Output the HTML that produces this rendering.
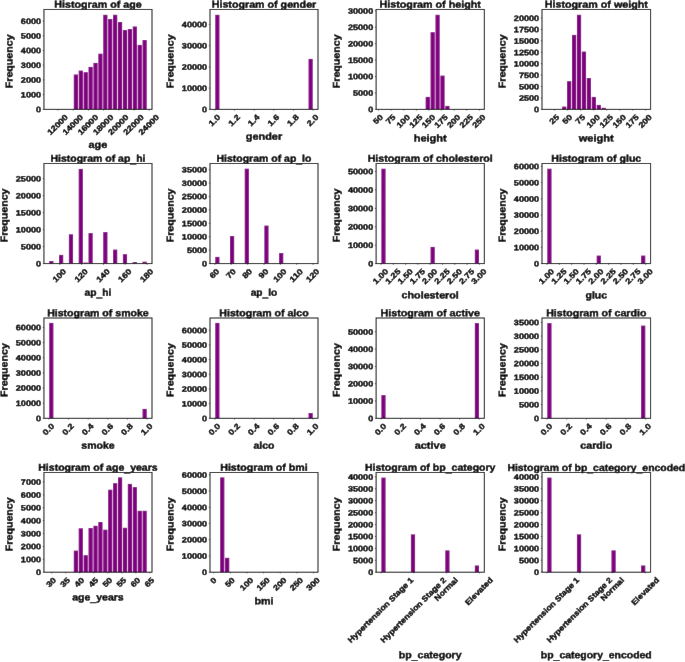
<!DOCTYPE html>
<html><head><meta charset="utf-8"><style>
html,body{margin:0;padding:0;background:#fff;}
svg{display:block;}
.w{will-change:transform;}
.u{stroke-width:0.55px;}
text{font-family:"Liberation Sans",sans-serif;font-weight:bold;text-rendering:geometricPrecision;fill:#000;stroke:#000;stroke-width:0.4px;}
</style></head><body>
<div class="w"><svg width="685" height="662" viewBox="0 0 685 662">
<defs><filter id="bl" x="0" y="0" width="685" height="662" filterUnits="userSpaceOnUse"><feConvolveMatrix order="3" kernelMatrix="0.0016 0.0371 0.0016 0.0371 0.8450 0.0371 0.0016 0.0371 0.0016" divisor="1" edgeMode="duplicate" preserveAlpha="true"/></filter></defs>
<g filter="url(#bl)">
<rect width="685" height="662" fill="#fff"/>
<rect x="73.79" y="74.50" width="4.17" height="34.85" fill="#800080"/>
<rect x="78.70" y="70.60" width="4.17" height="38.75" fill="#800080"/>
<rect x="83.61" y="72.20" width="4.17" height="37.15" fill="#800080"/>
<rect x="88.52" y="66.90" width="4.17" height="42.45" fill="#800080"/>
<rect x="93.43" y="62.90" width="4.17" height="46.45" fill="#800080"/>
<rect x="98.34" y="53.70" width="4.17" height="55.65" fill="#800080"/>
<rect x="103.25" y="14.80" width="4.17" height="94.55" fill="#800080"/>
<rect x="108.17" y="19.00" width="4.17" height="90.35" fill="#800080"/>
<rect x="113.08" y="14.80" width="4.17" height="94.55" fill="#800080"/>
<rect x="117.99" y="22.00" width="4.17" height="87.35" fill="#800080"/>
<rect x="122.90" y="30.00" width="4.17" height="79.35" fill="#800080"/>
<rect x="127.81" y="29.00" width="4.17" height="80.35" fill="#800080"/>
<rect x="132.72" y="26.50" width="4.17" height="82.85" fill="#800080"/>
<rect x="137.63" y="44.90" width="4.17" height="64.45" fill="#800080"/>
<rect x="142.55" y="40.00" width="4.17" height="69.35" fill="#800080"/>
<rect x="43.95" y="9.45" width="108.05" height="99.90" fill="none" stroke="#000" stroke-width="0.95"/>
<line x1="42.75" y1="109.35" x2="43.95" y2="109.35" stroke="#000" stroke-width="0.6"/>
<text x="41.05" y="112.24" font-size="7.90" text-anchor="end" textLength="5.04" lengthAdjust="spacingAndGlyphs" transform="rotate(0.05 41.05 112.24)">0</text>
<line x1="42.75" y1="94.63" x2="43.95" y2="94.63" stroke="#000" stroke-width="0.6"/>
<text x="41.05" y="97.52" font-size="7.90" text-anchor="end" textLength="20.18" lengthAdjust="spacingAndGlyphs" transform="rotate(0.05 41.05 97.52)">1000</text>
<line x1="42.75" y1="79.92" x2="43.95" y2="79.92" stroke="#000" stroke-width="0.6"/>
<text x="41.05" y="82.81" font-size="7.90" text-anchor="end" textLength="20.18" lengthAdjust="spacingAndGlyphs" transform="rotate(0.05 41.05 82.81)">2000</text>
<line x1="42.75" y1="65.20" x2="43.95" y2="65.20" stroke="#000" stroke-width="0.6"/>
<text x="41.05" y="68.09" font-size="7.90" text-anchor="end" textLength="20.18" lengthAdjust="spacingAndGlyphs" transform="rotate(0.05 41.05 68.09)">3000</text>
<line x1="42.75" y1="50.48" x2="43.95" y2="50.48" stroke="#000" stroke-width="0.6"/>
<text x="41.05" y="53.37" font-size="7.90" text-anchor="end" textLength="20.18" lengthAdjust="spacingAndGlyphs" transform="rotate(0.05 41.05 53.37)">4000</text>
<line x1="42.75" y1="35.76" x2="43.95" y2="35.76" stroke="#000" stroke-width="0.6"/>
<text x="41.05" y="38.65" font-size="7.90" text-anchor="end" textLength="20.18" lengthAdjust="spacingAndGlyphs" transform="rotate(0.05 41.05 38.65)">5000</text>
<line x1="42.75" y1="21.05" x2="43.95" y2="21.05" stroke="#000" stroke-width="0.6"/>
<text x="41.05" y="23.94" font-size="7.90" text-anchor="end" textLength="20.18" lengthAdjust="spacingAndGlyphs" transform="rotate(0.05 41.05 23.94)">6000</text>
<line x1="58.00" y1="109.35" x2="58.00" y2="110.55" stroke="#000" stroke-width="0.6"/>
<text x="0.00" y="2.00" font-size="7.90" text-anchor="middle" textLength="25.22" lengthAdjust="spacingAndGlyphs" transform="translate(58.00,125.25) rotate(-45)">12000</text>
<line x1="73.21" y1="109.35" x2="73.21" y2="110.55" stroke="#000" stroke-width="0.6"/>
<text x="0.00" y="2.00" font-size="7.90" text-anchor="middle" textLength="25.22" lengthAdjust="spacingAndGlyphs" transform="translate(73.21,125.25) rotate(-45)">14000</text>
<line x1="88.43" y1="109.35" x2="88.43" y2="110.55" stroke="#000" stroke-width="0.6"/>
<text x="0.00" y="2.00" font-size="7.90" text-anchor="middle" textLength="25.22" lengthAdjust="spacingAndGlyphs" transform="translate(88.43,125.25) rotate(-45)">16000</text>
<line x1="103.64" y1="109.35" x2="103.64" y2="110.55" stroke="#000" stroke-width="0.6"/>
<text x="0.00" y="2.00" font-size="7.90" text-anchor="middle" textLength="25.22" lengthAdjust="spacingAndGlyphs" transform="translate(103.64,125.25) rotate(-45)">18000</text>
<line x1="118.85" y1="109.35" x2="118.85" y2="110.55" stroke="#000" stroke-width="0.6"/>
<text x="0.00" y="2.00" font-size="7.90" text-anchor="middle" textLength="25.22" lengthAdjust="spacingAndGlyphs" transform="translate(118.85,125.25) rotate(-45)">20000</text>
<line x1="134.06" y1="109.35" x2="134.06" y2="110.55" stroke="#000" stroke-width="0.6"/>
<text x="0.00" y="2.00" font-size="7.90" text-anchor="middle" textLength="25.22" lengthAdjust="spacingAndGlyphs" transform="translate(134.06,125.25) rotate(-45)">22000</text>
<line x1="149.27" y1="109.35" x2="149.27" y2="110.55" stroke="#000" stroke-width="0.6"/>
<text x="0.00" y="2.00" font-size="7.90" text-anchor="middle" textLength="25.22" lengthAdjust="spacingAndGlyphs" transform="translate(149.27,125.25) rotate(-45)">24000</text>
<text x="97.97" y="7.65" font-size="9.76" text-anchor="middle" textLength="87.29" lengthAdjust="spacingAndGlyphs" transform="rotate(0.05 97.97 7.65)">Histogram of age</text>
<text x="97.97" y="147.95" font-size="9.92" text-anchor="middle" textLength="18.83" lengthAdjust="spacingAndGlyphs" transform="rotate(0.05 97.97 147.95)">age</text>
<text x="0.00" y="0.00" font-size="9.92" text-anchor="middle" textLength="53.84" lengthAdjust="spacingAndGlyphs" transform="translate(12.55,61.30) rotate(-89.95)">Frequency</text>
<rect x="215.28" y="14.80" width="4.17" height="94.55" fill="#800080"/>
<rect x="308.55" y="58.90" width="4.17" height="50.45" fill="#800080"/>
<rect x="210.00" y="9.45" width="108.00" height="99.90" fill="none" stroke="#000" stroke-width="0.95"/>
<line x1="208.80" y1="109.35" x2="210.00" y2="109.35" stroke="#000" stroke-width="0.6"/>
<text x="207.10" y="112.24" font-size="7.90" text-anchor="end" textLength="5.04" lengthAdjust="spacingAndGlyphs" transform="rotate(0.05 207.10 112.24)">0</text>
<line x1="208.80" y1="88.10" x2="210.00" y2="88.10" stroke="#000" stroke-width="0.6"/>
<text x="207.10" y="90.99" font-size="7.90" text-anchor="end" textLength="25.22" lengthAdjust="spacingAndGlyphs" transform="rotate(0.05 207.10 90.99)">10000</text>
<line x1="208.80" y1="66.85" x2="210.00" y2="66.85" stroke="#000" stroke-width="0.6"/>
<text x="207.10" y="69.74" font-size="7.90" text-anchor="end" textLength="25.22" lengthAdjust="spacingAndGlyphs" transform="rotate(0.05 207.10 69.74)">20000</text>
<line x1="208.80" y1="45.60" x2="210.00" y2="45.60" stroke="#000" stroke-width="0.6"/>
<text x="207.10" y="48.49" font-size="7.90" text-anchor="end" textLength="25.22" lengthAdjust="spacingAndGlyphs" transform="rotate(0.05 207.10 48.49)">30000</text>
<line x1="208.80" y1="24.35" x2="210.00" y2="24.35" stroke="#000" stroke-width="0.6"/>
<text x="207.10" y="27.24" font-size="7.90" text-anchor="end" textLength="25.22" lengthAdjust="spacingAndGlyphs" transform="rotate(0.05 207.10 27.24)">40000</text>
<line x1="214.91" y1="109.35" x2="214.91" y2="110.55" stroke="#000" stroke-width="0.6"/>
<text x="0.00" y="2.00" font-size="7.90" text-anchor="middle" textLength="12.84" lengthAdjust="spacingAndGlyphs" transform="translate(214.91,120.87) rotate(-45)">1.0</text>
<line x1="234.55" y1="109.35" x2="234.55" y2="110.55" stroke="#000" stroke-width="0.6"/>
<text x="0.00" y="2.00" font-size="7.90" text-anchor="middle" textLength="12.84" lengthAdjust="spacingAndGlyphs" transform="translate(234.55,120.87) rotate(-45)">1.2</text>
<line x1="254.18" y1="109.35" x2="254.18" y2="110.55" stroke="#000" stroke-width="0.6"/>
<text x="0.00" y="2.00" font-size="7.90" text-anchor="middle" textLength="12.84" lengthAdjust="spacingAndGlyphs" transform="translate(254.18,120.87) rotate(-45)">1.4</text>
<line x1="273.82" y1="109.35" x2="273.82" y2="110.55" stroke="#000" stroke-width="0.6"/>
<text x="0.00" y="2.00" font-size="7.90" text-anchor="middle" textLength="12.84" lengthAdjust="spacingAndGlyphs" transform="translate(273.82,120.87) rotate(-45)">1.6</text>
<line x1="293.45" y1="109.35" x2="293.45" y2="110.55" stroke="#000" stroke-width="0.6"/>
<text x="0.00" y="2.00" font-size="7.90" text-anchor="middle" textLength="12.84" lengthAdjust="spacingAndGlyphs" transform="translate(293.45,120.87) rotate(-45)">1.8</text>
<line x1="313.09" y1="109.35" x2="313.09" y2="110.55" stroke="#000" stroke-width="0.6"/>
<text x="0.00" y="2.00" font-size="7.90" text-anchor="middle" textLength="12.84" lengthAdjust="spacingAndGlyphs" transform="translate(313.09,120.87) rotate(-45)">2.0</text>
<text x="264.00" y="7.65" font-size="9.76" text-anchor="middle" textLength="104.51" lengthAdjust="spacingAndGlyphs" transform="rotate(0.05 264.00 7.65)">Histogram of gender</text>
<text x="264.00" y="139.75" font-size="9.92" text-anchor="middle" textLength="36.34" lengthAdjust="spacingAndGlyphs" transform="rotate(0.05 264.00 139.75)">gender</text>
<text x="0.00" y="0.00" font-size="9.92" text-anchor="middle" textLength="53.84" lengthAdjust="spacingAndGlyphs" transform="translate(173.60,61.30) rotate(-89.95)">Frequency</text>
<rect x="425.65" y="96.90" width="4.18" height="12.45" fill="#800080"/>
<rect x="430.57" y="32.20" width="4.18" height="77.15" fill="#800080"/>
<rect x="435.49" y="14.80" width="4.18" height="94.55" fill="#800080"/>
<rect x="440.41" y="75.60" width="4.18" height="33.75" fill="#800080"/>
<rect x="445.32" y="105.90" width="4.18" height="3.45" fill="#800080"/>
<rect x="376.10" y="9.45" width="108.20" height="99.90" fill="none" stroke="#000" stroke-width="0.95"/>
<line x1="374.90" y1="109.35" x2="376.10" y2="109.35" stroke="#000" stroke-width="0.6"/>
<text x="373.20" y="112.24" font-size="7.90" text-anchor="end" textLength="5.04" lengthAdjust="spacingAndGlyphs" transform="rotate(0.05 373.20 112.24)">0</text>
<line x1="374.90" y1="92.92" x2="376.10" y2="92.92" stroke="#000" stroke-width="0.6"/>
<text x="373.20" y="95.81" font-size="7.90" text-anchor="end" textLength="20.18" lengthAdjust="spacingAndGlyphs" transform="rotate(0.05 373.20 95.81)">5000</text>
<line x1="374.90" y1="76.49" x2="376.10" y2="76.49" stroke="#000" stroke-width="0.6"/>
<text x="373.20" y="79.38" font-size="7.90" text-anchor="end" textLength="25.22" lengthAdjust="spacingAndGlyphs" transform="rotate(0.05 373.20 79.38)">10000</text>
<line x1="374.90" y1="60.06" x2="376.10" y2="60.06" stroke="#000" stroke-width="0.6"/>
<text x="373.20" y="62.95" font-size="7.90" text-anchor="end" textLength="25.22" lengthAdjust="spacingAndGlyphs" transform="rotate(0.05 373.20 62.95)">15000</text>
<line x1="374.90" y1="43.63" x2="376.10" y2="43.63" stroke="#000" stroke-width="0.6"/>
<text x="373.20" y="46.52" font-size="7.90" text-anchor="end" textLength="25.22" lengthAdjust="spacingAndGlyphs" transform="rotate(0.05 373.20 46.52)">20000</text>
<line x1="374.90" y1="27.20" x2="376.10" y2="27.20" stroke="#000" stroke-width="0.6"/>
<text x="373.20" y="30.09" font-size="7.90" text-anchor="end" textLength="25.22" lengthAdjust="spacingAndGlyphs" transform="rotate(0.05 373.20 30.09)">25000</text>
<line x1="374.90" y1="10.77" x2="376.10" y2="10.77" stroke="#000" stroke-width="0.6"/>
<text x="373.20" y="13.66" font-size="7.90" text-anchor="end" textLength="25.22" lengthAdjust="spacingAndGlyphs" transform="rotate(0.05 373.20 13.66)">30000</text>
<line x1="378.50" y1="109.35" x2="378.50" y2="110.55" stroke="#000" stroke-width="0.6"/>
<text x="0.00" y="2.00" font-size="7.90" text-anchor="middle" textLength="10.09" lengthAdjust="spacingAndGlyphs" transform="translate(378.50,119.90) rotate(-45)">50</text>
<line x1="391.11" y1="109.35" x2="391.11" y2="110.55" stroke="#000" stroke-width="0.6"/>
<text x="0.00" y="2.00" font-size="7.90" text-anchor="middle" textLength="10.09" lengthAdjust="spacingAndGlyphs" transform="translate(391.11,119.90) rotate(-45)">75</text>
<line x1="403.72" y1="109.35" x2="403.72" y2="110.55" stroke="#000" stroke-width="0.6"/>
<text x="0.00" y="2.00" font-size="7.90" text-anchor="middle" textLength="15.13" lengthAdjust="spacingAndGlyphs" transform="translate(403.72,121.68) rotate(-45)">100</text>
<line x1="416.33" y1="109.35" x2="416.33" y2="110.55" stroke="#000" stroke-width="0.6"/>
<text x="0.00" y="2.00" font-size="7.90" text-anchor="middle" textLength="15.13" lengthAdjust="spacingAndGlyphs" transform="translate(416.33,121.68) rotate(-45)">125</text>
<line x1="428.94" y1="109.35" x2="428.94" y2="110.55" stroke="#000" stroke-width="0.6"/>
<text x="0.00" y="2.00" font-size="7.90" text-anchor="middle" textLength="15.13" lengthAdjust="spacingAndGlyphs" transform="translate(428.94,121.68) rotate(-45)">150</text>
<line x1="441.55" y1="109.35" x2="441.55" y2="110.55" stroke="#000" stroke-width="0.6"/>
<text x="0.00" y="2.00" font-size="7.90" text-anchor="middle" textLength="15.13" lengthAdjust="spacingAndGlyphs" transform="translate(441.55,121.68) rotate(-45)">175</text>
<line x1="454.16" y1="109.35" x2="454.16" y2="110.55" stroke="#000" stroke-width="0.6"/>
<text x="0.00" y="2.00" font-size="7.90" text-anchor="middle" textLength="15.13" lengthAdjust="spacingAndGlyphs" transform="translate(454.16,121.68) rotate(-45)">200</text>
<line x1="466.77" y1="109.35" x2="466.77" y2="110.55" stroke="#000" stroke-width="0.6"/>
<text x="0.00" y="2.00" font-size="7.90" text-anchor="middle" textLength="15.13" lengthAdjust="spacingAndGlyphs" transform="translate(466.77,121.68) rotate(-45)">225</text>
<line x1="479.38" y1="109.35" x2="479.38" y2="110.55" stroke="#000" stroke-width="0.6"/>
<text x="0.00" y="2.00" font-size="7.90" text-anchor="middle" textLength="15.13" lengthAdjust="spacingAndGlyphs" transform="translate(479.38,121.68) rotate(-45)">250</text>
<text x="430.20" y="7.65" font-size="9.76" text-anchor="middle" textLength="101.34" lengthAdjust="spacingAndGlyphs" transform="rotate(0.05 430.20 7.65)">Histogram of height</text>
<text x="430.20" y="141.45" font-size="9.92" text-anchor="middle" textLength="33.11" lengthAdjust="spacingAndGlyphs" transform="rotate(0.05 430.20 141.45)">height</text>
<text x="0.00" y="0.00" font-size="9.92" text-anchor="middle" textLength="53.84" lengthAdjust="spacingAndGlyphs" transform="translate(339.70,61.30) rotate(-89.95)">Frequency</text>
<rect x="562.12" y="106.60" width="4.20" height="2.75" fill="#800080"/>
<rect x="567.05" y="81.20" width="4.20" height="28.15" fill="#800080"/>
<rect x="571.99" y="34.90" width="4.20" height="74.45" fill="#800080"/>
<rect x="576.92" y="14.80" width="4.20" height="94.55" fill="#800080"/>
<rect x="581.86" y="51.60" width="4.20" height="57.75" fill="#800080"/>
<rect x="586.80" y="78.00" width="4.20" height="31.35" fill="#800080"/>
<rect x="591.73" y="96.90" width="4.20" height="12.45" fill="#800080"/>
<rect x="596.67" y="104.90" width="4.20" height="4.45" fill="#800080"/>
<rect x="601.61" y="107.80" width="4.20" height="1.55" fill="#800080"/>
<rect x="542.00" y="9.45" width="108.60" height="99.90" fill="none" stroke="#000" stroke-width="0.95"/>
<line x1="540.80" y1="109.35" x2="542.00" y2="109.35" stroke="#000" stroke-width="0.6"/>
<text x="539.10" y="112.24" font-size="7.90" text-anchor="end" textLength="5.04" lengthAdjust="spacingAndGlyphs" transform="rotate(0.05 539.10 112.24)">0</text>
<line x1="540.80" y1="97.94" x2="542.00" y2="97.94" stroke="#000" stroke-width="0.6"/>
<text x="539.10" y="100.83" font-size="7.90" text-anchor="end" textLength="20.18" lengthAdjust="spacingAndGlyphs" transform="rotate(0.05 539.10 100.83)">2500</text>
<line x1="540.80" y1="86.53" x2="542.00" y2="86.53" stroke="#000" stroke-width="0.6"/>
<text x="539.10" y="89.42" font-size="7.90" text-anchor="end" textLength="20.18" lengthAdjust="spacingAndGlyphs" transform="rotate(0.05 539.10 89.42)">5000</text>
<line x1="540.80" y1="75.12" x2="542.00" y2="75.12" stroke="#000" stroke-width="0.6"/>
<text x="539.10" y="78.01" font-size="7.90" text-anchor="end" textLength="20.18" lengthAdjust="spacingAndGlyphs" transform="rotate(0.05 539.10 78.01)">7500</text>
<line x1="540.80" y1="63.71" x2="542.00" y2="63.71" stroke="#000" stroke-width="0.6"/>
<text x="539.10" y="66.60" font-size="7.90" text-anchor="end" textLength="25.22" lengthAdjust="spacingAndGlyphs" transform="rotate(0.05 539.10 66.60)">10000</text>
<line x1="540.80" y1="52.30" x2="542.00" y2="52.30" stroke="#000" stroke-width="0.6"/>
<text x="539.10" y="55.19" font-size="7.90" text-anchor="end" textLength="25.22" lengthAdjust="spacingAndGlyphs" transform="rotate(0.05 539.10 55.19)">12500</text>
<line x1="540.80" y1="40.89" x2="542.00" y2="40.89" stroke="#000" stroke-width="0.6"/>
<text x="539.10" y="43.78" font-size="7.90" text-anchor="end" textLength="25.22" lengthAdjust="spacingAndGlyphs" transform="rotate(0.05 539.10 43.78)">15000</text>
<line x1="540.80" y1="29.48" x2="542.00" y2="29.48" stroke="#000" stroke-width="0.6"/>
<text x="539.10" y="32.37" font-size="7.90" text-anchor="end" textLength="25.22" lengthAdjust="spacingAndGlyphs" transform="rotate(0.05 539.10 32.37)">17500</text>
<line x1="540.80" y1="18.07" x2="542.00" y2="18.07" stroke="#000" stroke-width="0.6"/>
<text x="539.10" y="20.96" font-size="7.90" text-anchor="end" textLength="25.22" lengthAdjust="spacingAndGlyphs" transform="rotate(0.05 539.10 20.96)">20000</text>
<line x1="554.73" y1="109.35" x2="554.73" y2="110.55" stroke="#000" stroke-width="0.6"/>
<text x="0.00" y="2.00" font-size="7.90" text-anchor="middle" textLength="10.09" lengthAdjust="spacingAndGlyphs" transform="translate(554.73,119.90) rotate(-45)">25</text>
<line x1="567.72" y1="109.35" x2="567.72" y2="110.55" stroke="#000" stroke-width="0.6"/>
<text x="0.00" y="2.00" font-size="7.90" text-anchor="middle" textLength="10.09" lengthAdjust="spacingAndGlyphs" transform="translate(567.72,119.90) rotate(-45)">50</text>
<line x1="580.71" y1="109.35" x2="580.71" y2="110.55" stroke="#000" stroke-width="0.6"/>
<text x="0.00" y="2.00" font-size="7.90" text-anchor="middle" textLength="10.09" lengthAdjust="spacingAndGlyphs" transform="translate(580.71,119.90) rotate(-45)">75</text>
<line x1="593.70" y1="109.35" x2="593.70" y2="110.55" stroke="#000" stroke-width="0.6"/>
<text x="0.00" y="2.00" font-size="7.90" text-anchor="middle" textLength="15.13" lengthAdjust="spacingAndGlyphs" transform="translate(593.70,121.68) rotate(-45)">100</text>
<line x1="606.69" y1="109.35" x2="606.69" y2="110.55" stroke="#000" stroke-width="0.6"/>
<text x="0.00" y="2.00" font-size="7.90" text-anchor="middle" textLength="15.13" lengthAdjust="spacingAndGlyphs" transform="translate(606.69,121.68) rotate(-45)">125</text>
<line x1="619.68" y1="109.35" x2="619.68" y2="110.55" stroke="#000" stroke-width="0.6"/>
<text x="0.00" y="2.00" font-size="7.90" text-anchor="middle" textLength="15.13" lengthAdjust="spacingAndGlyphs" transform="translate(619.68,121.68) rotate(-45)">150</text>
<line x1="632.67" y1="109.35" x2="632.67" y2="110.55" stroke="#000" stroke-width="0.6"/>
<text x="0.00" y="2.00" font-size="7.90" text-anchor="middle" textLength="15.13" lengthAdjust="spacingAndGlyphs" transform="translate(632.67,121.68) rotate(-45)">175</text>
<line x1="645.66" y1="109.35" x2="645.66" y2="110.55" stroke="#000" stroke-width="0.6"/>
<text x="0.00" y="2.00" font-size="7.90" text-anchor="middle" textLength="15.13" lengthAdjust="spacingAndGlyphs" transform="translate(645.66,121.68) rotate(-45)">200</text>
<text x="596.30" y="7.65" font-size="9.76" text-anchor="middle" textLength="103.24" lengthAdjust="spacingAndGlyphs" transform="rotate(0.05 596.30 7.65)">Histogram of weight</text>
<text x="596.30" y="141.45" font-size="9.92" text-anchor="middle" textLength="35.04" lengthAdjust="spacingAndGlyphs" transform="rotate(0.05 596.30 141.45)">weight</text>
<text x="0.00" y="0.00" font-size="9.92" text-anchor="middle" textLength="53.84" lengthAdjust="spacingAndGlyphs" transform="translate(505.60,61.30) rotate(-89.95)">Frequency</text>
<rect x="49.23" y="261.00" width="4.17" height="2.60" fill="#800080"/>
<rect x="59.05" y="254.90" width="4.17" height="8.70" fill="#800080"/>
<rect x="68.88" y="234.30" width="4.17" height="29.30" fill="#800080"/>
<rect x="78.70" y="168.90" width="4.17" height="94.70" fill="#800080"/>
<rect x="83.61" y="262.60" width="4.17" height="1.00" fill="#800080"/>
<rect x="88.52" y="233.10" width="4.17" height="30.50" fill="#800080"/>
<rect x="103.25" y="232.10" width="4.17" height="31.50" fill="#800080"/>
<rect x="113.08" y="249.60" width="4.17" height="14.00" fill="#800080"/>
<rect x="122.90" y="254.20" width="4.17" height="9.40" fill="#800080"/>
<rect x="132.72" y="262.00" width="4.17" height="1.60" fill="#800080"/>
<rect x="142.55" y="261.70" width="4.17" height="1.90" fill="#800080"/>
<rect x="43.95" y="163.50" width="108.05" height="100.10" fill="none" stroke="#000" stroke-width="0.95"/>
<line x1="42.75" y1="263.60" x2="43.95" y2="263.60" stroke="#000" stroke-width="0.6"/>
<text x="41.05" y="266.49" font-size="7.90" text-anchor="end" textLength="5.04" lengthAdjust="spacingAndGlyphs" transform="rotate(0.05 41.05 266.49)">0</text>
<line x1="42.75" y1="246.60" x2="43.95" y2="246.60" stroke="#000" stroke-width="0.6"/>
<text x="41.05" y="249.49" font-size="7.90" text-anchor="end" textLength="20.18" lengthAdjust="spacingAndGlyphs" transform="rotate(0.05 41.05 249.49)">5000</text>
<line x1="42.75" y1="229.60" x2="43.95" y2="229.60" stroke="#000" stroke-width="0.6"/>
<text x="41.05" y="232.49" font-size="7.90" text-anchor="end" textLength="25.22" lengthAdjust="spacingAndGlyphs" transform="rotate(0.05 41.05 232.49)">10000</text>
<line x1="42.75" y1="212.60" x2="43.95" y2="212.60" stroke="#000" stroke-width="0.6"/>
<text x="41.05" y="215.49" font-size="7.90" text-anchor="end" textLength="25.22" lengthAdjust="spacingAndGlyphs" transform="rotate(0.05 41.05 215.49)">15000</text>
<line x1="42.75" y1="195.60" x2="43.95" y2="195.60" stroke="#000" stroke-width="0.6"/>
<text x="41.05" y="198.49" font-size="7.90" text-anchor="end" textLength="25.22" lengthAdjust="spacingAndGlyphs" transform="rotate(0.05 41.05 198.49)">20000</text>
<line x1="42.75" y1="178.60" x2="43.95" y2="178.60" stroke="#000" stroke-width="0.6"/>
<text x="41.05" y="181.49" font-size="7.90" text-anchor="end" textLength="25.22" lengthAdjust="spacingAndGlyphs" transform="rotate(0.05 41.05 181.49)">25000</text>
<line x1="59.78" y1="263.60" x2="59.78" y2="264.80" stroke="#000" stroke-width="0.6"/>
<text x="0.00" y="2.00" font-size="7.90" text-anchor="middle" textLength="15.13" lengthAdjust="spacingAndGlyphs" transform="translate(59.78,275.93) rotate(-45)">100</text>
<line x1="81.60" y1="263.60" x2="81.60" y2="264.80" stroke="#000" stroke-width="0.6"/>
<text x="0.00" y="2.00" font-size="7.90" text-anchor="middle" textLength="15.13" lengthAdjust="spacingAndGlyphs" transform="translate(81.60,275.93) rotate(-45)">120</text>
<line x1="103.43" y1="263.60" x2="103.43" y2="264.80" stroke="#000" stroke-width="0.6"/>
<text x="0.00" y="2.00" font-size="7.90" text-anchor="middle" textLength="15.13" lengthAdjust="spacingAndGlyphs" transform="translate(103.43,275.93) rotate(-45)">140</text>
<line x1="125.26" y1="263.60" x2="125.26" y2="264.80" stroke="#000" stroke-width="0.6"/>
<text x="0.00" y="2.00" font-size="7.90" text-anchor="middle" textLength="15.13" lengthAdjust="spacingAndGlyphs" transform="translate(125.26,275.93) rotate(-45)">160</text>
<line x1="147.09" y1="263.60" x2="147.09" y2="264.80" stroke="#000" stroke-width="0.6"/>
<text x="0.00" y="2.00" font-size="7.90" text-anchor="middle" textLength="15.13" lengthAdjust="spacingAndGlyphs" transform="translate(147.09,275.93) rotate(-45)">180</text>
<text x="97.97" y="161.70" font-size="9.76" text-anchor="middle" textLength="95.13" lengthAdjust="spacingAndGlyphs" transform="rotate(0.05 97.97 161.70)">Histogram of ap<tspan dy="1.25" class="u">_</tspan><tspan dy="-1.25">hi</tspan></text>
<text x="97.97" y="295.70" font-size="9.92" text-anchor="middle" textLength="26.80" lengthAdjust="spacingAndGlyphs" transform="rotate(0.05 97.97 295.70)">ap<tspan dy="1.27" class="u">_</tspan><tspan dy="-1.27">hi</tspan></text>
<text x="0.00" y="0.00" font-size="9.92" text-anchor="middle" textLength="53.84" lengthAdjust="spacingAndGlyphs" transform="translate(7.55,215.45) rotate(-89.95)">Frequency</text>
<rect x="215.28" y="256.90" width="4.17" height="6.70" fill="#800080"/>
<rect x="230.00" y="236.00" width="4.17" height="27.60" fill="#800080"/>
<rect x="244.73" y="168.70" width="4.17" height="94.90" fill="#800080"/>
<rect x="264.37" y="225.60" width="4.17" height="38.00" fill="#800080"/>
<rect x="279.10" y="253.00" width="4.17" height="10.60" fill="#800080"/>
<rect x="210.00" y="163.50" width="108.00" height="100.10" fill="none" stroke="#000" stroke-width="0.95"/>
<line x1="208.80" y1="263.60" x2="210.00" y2="263.60" stroke="#000" stroke-width="0.6"/>
<text x="207.10" y="266.49" font-size="7.90" text-anchor="end" textLength="5.04" lengthAdjust="spacingAndGlyphs" transform="rotate(0.05 207.10 266.49)">0</text>
<line x1="208.80" y1="250.17" x2="210.00" y2="250.17" stroke="#000" stroke-width="0.6"/>
<text x="207.10" y="253.06" font-size="7.90" text-anchor="end" textLength="20.18" lengthAdjust="spacingAndGlyphs" transform="rotate(0.05 207.10 253.06)">5000</text>
<line x1="208.80" y1="236.74" x2="210.00" y2="236.74" stroke="#000" stroke-width="0.6"/>
<text x="207.10" y="239.63" font-size="7.90" text-anchor="end" textLength="25.22" lengthAdjust="spacingAndGlyphs" transform="rotate(0.05 207.10 239.63)">10000</text>
<line x1="208.80" y1="223.31" x2="210.00" y2="223.31" stroke="#000" stroke-width="0.6"/>
<text x="207.10" y="226.20" font-size="7.90" text-anchor="end" textLength="25.22" lengthAdjust="spacingAndGlyphs" transform="rotate(0.05 207.10 226.20)">15000</text>
<line x1="208.80" y1="209.88" x2="210.00" y2="209.88" stroke="#000" stroke-width="0.6"/>
<text x="207.10" y="212.77" font-size="7.90" text-anchor="end" textLength="25.22" lengthAdjust="spacingAndGlyphs" transform="rotate(0.05 207.10 212.77)">20000</text>
<line x1="208.80" y1="196.45" x2="210.00" y2="196.45" stroke="#000" stroke-width="0.6"/>
<text x="207.10" y="199.34" font-size="7.90" text-anchor="end" textLength="25.22" lengthAdjust="spacingAndGlyphs" transform="rotate(0.05 207.10 199.34)">25000</text>
<line x1="208.80" y1="183.02" x2="210.00" y2="183.02" stroke="#000" stroke-width="0.6"/>
<text x="207.10" y="185.91" font-size="7.90" text-anchor="end" textLength="25.22" lengthAdjust="spacingAndGlyphs" transform="rotate(0.05 207.10 185.91)">30000</text>
<line x1="208.80" y1="169.59" x2="210.00" y2="169.59" stroke="#000" stroke-width="0.6"/>
<text x="207.10" y="172.48" font-size="7.90" text-anchor="end" textLength="25.22" lengthAdjust="spacingAndGlyphs" transform="rotate(0.05 207.10 172.48)">35000</text>
<line x1="214.91" y1="263.60" x2="214.91" y2="264.80" stroke="#000" stroke-width="0.6"/>
<text x="0.00" y="2.00" font-size="7.90" text-anchor="middle" textLength="10.09" lengthAdjust="spacingAndGlyphs" transform="translate(214.91,274.15) rotate(-45)">60</text>
<line x1="231.27" y1="263.60" x2="231.27" y2="264.80" stroke="#000" stroke-width="0.6"/>
<text x="0.00" y="2.00" font-size="7.90" text-anchor="middle" textLength="10.09" lengthAdjust="spacingAndGlyphs" transform="translate(231.27,274.15) rotate(-45)">70</text>
<line x1="247.64" y1="263.60" x2="247.64" y2="264.80" stroke="#000" stroke-width="0.6"/>
<text x="0.00" y="2.00" font-size="7.90" text-anchor="middle" textLength="10.09" lengthAdjust="spacingAndGlyphs" transform="translate(247.64,274.15) rotate(-45)">80</text>
<line x1="264.00" y1="263.60" x2="264.00" y2="264.80" stroke="#000" stroke-width="0.6"/>
<text x="0.00" y="2.00" font-size="7.90" text-anchor="middle" textLength="10.09" lengthAdjust="spacingAndGlyphs" transform="translate(264.00,274.15) rotate(-45)">90</text>
<line x1="280.36" y1="263.60" x2="280.36" y2="264.80" stroke="#000" stroke-width="0.6"/>
<text x="0.00" y="2.00" font-size="7.90" text-anchor="middle" textLength="15.13" lengthAdjust="spacingAndGlyphs" transform="translate(280.36,275.93) rotate(-45)">100</text>
<line x1="296.73" y1="263.60" x2="296.73" y2="264.80" stroke="#000" stroke-width="0.6"/>
<text x="0.00" y="2.00" font-size="7.90" text-anchor="middle" textLength="15.13" lengthAdjust="spacingAndGlyphs" transform="translate(296.73,275.93) rotate(-45)">110</text>
<line x1="313.09" y1="263.60" x2="313.09" y2="264.80" stroke="#000" stroke-width="0.6"/>
<text x="0.00" y="2.00" font-size="7.90" text-anchor="middle" textLength="15.13" lengthAdjust="spacingAndGlyphs" transform="translate(313.09,275.93) rotate(-45)">120</text>
<text x="264.00" y="161.70" font-size="9.76" text-anchor="middle" textLength="94.91" lengthAdjust="spacingAndGlyphs" transform="rotate(0.05 264.00 161.70)">Histogram of ap<tspan dy="1.25" class="u">_</tspan><tspan dy="-1.25">lo</tspan></text>
<text x="264.00" y="295.70" font-size="9.92" text-anchor="middle" textLength="26.58" lengthAdjust="spacingAndGlyphs" transform="rotate(0.05 264.00 295.70)">ap<tspan dy="1.27" class="u">_</tspan><tspan dy="-1.27">lo</tspan></text>
<text x="0.00" y="0.00" font-size="9.92" text-anchor="middle" textLength="53.84" lengthAdjust="spacingAndGlyphs" transform="translate(173.60,215.45) rotate(-89.95)">Frequency</text>
<rect x="381.39" y="168.70" width="4.18" height="94.90" fill="#800080"/>
<rect x="430.57" y="246.90" width="4.18" height="16.70" fill="#800080"/>
<rect x="474.83" y="249.60" width="4.18" height="14.00" fill="#800080"/>
<rect x="376.10" y="163.50" width="108.20" height="100.10" fill="none" stroke="#000" stroke-width="0.95"/>
<line x1="374.90" y1="263.60" x2="376.10" y2="263.60" stroke="#000" stroke-width="0.6"/>
<text x="373.20" y="266.49" font-size="7.90" text-anchor="end" textLength="5.04" lengthAdjust="spacingAndGlyphs" transform="rotate(0.05 373.20 266.49)">0</text>
<line x1="374.90" y1="245.18" x2="376.10" y2="245.18" stroke="#000" stroke-width="0.6"/>
<text x="373.20" y="248.07" font-size="7.90" text-anchor="end" textLength="25.22" lengthAdjust="spacingAndGlyphs" transform="rotate(0.05 373.20 248.07)">10000</text>
<line x1="374.90" y1="226.76" x2="376.10" y2="226.76" stroke="#000" stroke-width="0.6"/>
<text x="373.20" y="229.65" font-size="7.90" text-anchor="end" textLength="25.22" lengthAdjust="spacingAndGlyphs" transform="rotate(0.05 373.20 229.65)">20000</text>
<line x1="374.90" y1="208.34" x2="376.10" y2="208.34" stroke="#000" stroke-width="0.6"/>
<text x="373.20" y="211.23" font-size="7.90" text-anchor="end" textLength="25.22" lengthAdjust="spacingAndGlyphs" transform="rotate(0.05 373.20 211.23)">30000</text>
<line x1="374.90" y1="189.92" x2="376.10" y2="189.92" stroke="#000" stroke-width="0.6"/>
<text x="373.20" y="192.81" font-size="7.90" text-anchor="end" textLength="25.22" lengthAdjust="spacingAndGlyphs" transform="rotate(0.05 373.20 192.81)">40000</text>
<line x1="374.90" y1="171.50" x2="376.10" y2="171.50" stroke="#000" stroke-width="0.6"/>
<text x="373.20" y="174.39" font-size="7.90" text-anchor="end" textLength="25.22" lengthAdjust="spacingAndGlyphs" transform="rotate(0.05 373.20 174.39)">50000</text>
<line x1="381.02" y1="263.60" x2="381.02" y2="264.80" stroke="#000" stroke-width="0.6"/>
<text x="0.00" y="2.00" font-size="7.90" text-anchor="middle" textLength="17.89" lengthAdjust="spacingAndGlyphs" transform="translate(381.02,276.91) rotate(-45)">1.00</text>
<line x1="393.31" y1="263.60" x2="393.31" y2="264.80" stroke="#000" stroke-width="0.6"/>
<text x="0.00" y="2.00" font-size="7.90" text-anchor="middle" textLength="17.89" lengthAdjust="spacingAndGlyphs" transform="translate(393.31,276.91) rotate(-45)">1.25</text>
<line x1="405.61" y1="263.60" x2="405.61" y2="264.80" stroke="#000" stroke-width="0.6"/>
<text x="0.00" y="2.00" font-size="7.90" text-anchor="middle" textLength="17.89" lengthAdjust="spacingAndGlyphs" transform="translate(405.61,276.91) rotate(-45)">1.50</text>
<line x1="417.90" y1="263.60" x2="417.90" y2="264.80" stroke="#000" stroke-width="0.6"/>
<text x="0.00" y="2.00" font-size="7.90" text-anchor="middle" textLength="17.89" lengthAdjust="spacingAndGlyphs" transform="translate(417.90,276.91) rotate(-45)">1.75</text>
<line x1="430.20" y1="263.60" x2="430.20" y2="264.80" stroke="#000" stroke-width="0.6"/>
<text x="0.00" y="2.00" font-size="7.90" text-anchor="middle" textLength="17.89" lengthAdjust="spacingAndGlyphs" transform="translate(430.20,276.91) rotate(-45)">2.00</text>
<line x1="442.50" y1="263.60" x2="442.50" y2="264.80" stroke="#000" stroke-width="0.6"/>
<text x="0.00" y="2.00" font-size="7.90" text-anchor="middle" textLength="17.89" lengthAdjust="spacingAndGlyphs" transform="translate(442.50,276.91) rotate(-45)">2.25</text>
<line x1="454.79" y1="263.60" x2="454.79" y2="264.80" stroke="#000" stroke-width="0.6"/>
<text x="0.00" y="2.00" font-size="7.90" text-anchor="middle" textLength="17.89" lengthAdjust="spacingAndGlyphs" transform="translate(454.79,276.91) rotate(-45)">2.50</text>
<line x1="467.09" y1="263.60" x2="467.09" y2="264.80" stroke="#000" stroke-width="0.6"/>
<text x="0.00" y="2.00" font-size="7.90" text-anchor="middle" textLength="17.89" lengthAdjust="spacingAndGlyphs" transform="translate(467.09,276.91) rotate(-45)">2.75</text>
<line x1="479.38" y1="263.60" x2="479.38" y2="264.80" stroke="#000" stroke-width="0.6"/>
<text x="0.00" y="2.00" font-size="7.90" text-anchor="middle" textLength="17.89" lengthAdjust="spacingAndGlyphs" transform="translate(479.38,276.91) rotate(-45)">3.00</text>
<text x="430.20" y="161.70" font-size="9.76" text-anchor="middle" textLength="125.04" lengthAdjust="spacingAndGlyphs" transform="rotate(0.05 430.20 161.70)">Histogram of cholesterol</text>
<text x="430.20" y="298.40" font-size="9.92" text-anchor="middle" textLength="57.21" lengthAdjust="spacingAndGlyphs" transform="rotate(0.05 430.20 298.40)">cholesterol</text>
<text x="0.00" y="0.00" font-size="9.92" text-anchor="middle" textLength="53.84" lengthAdjust="spacingAndGlyphs" transform="translate(339.70,215.45) rotate(-89.95)">Frequency</text>
<rect x="547.31" y="168.70" width="4.20" height="94.90" fill="#800080"/>
<rect x="596.67" y="255.60" width="4.20" height="8.00" fill="#800080"/>
<rect x="641.10" y="255.60" width="4.20" height="8.00" fill="#800080"/>
<rect x="542.00" y="163.50" width="108.60" height="100.10" fill="none" stroke="#000" stroke-width="0.95"/>
<line x1="540.80" y1="263.60" x2="542.00" y2="263.60" stroke="#000" stroke-width="0.6"/>
<text x="539.10" y="266.49" font-size="7.90" text-anchor="end" textLength="5.04" lengthAdjust="spacingAndGlyphs" transform="rotate(0.05 539.10 266.49)">0</text>
<line x1="540.80" y1="247.40" x2="542.00" y2="247.40" stroke="#000" stroke-width="0.6"/>
<text x="539.10" y="250.29" font-size="7.90" text-anchor="end" textLength="25.22" lengthAdjust="spacingAndGlyphs" transform="rotate(0.05 539.10 250.29)">10000</text>
<line x1="540.80" y1="231.20" x2="542.00" y2="231.20" stroke="#000" stroke-width="0.6"/>
<text x="539.10" y="234.09" font-size="7.90" text-anchor="end" textLength="25.22" lengthAdjust="spacingAndGlyphs" transform="rotate(0.05 539.10 234.09)">20000</text>
<line x1="540.80" y1="215.00" x2="542.00" y2="215.00" stroke="#000" stroke-width="0.6"/>
<text x="539.10" y="217.89" font-size="7.90" text-anchor="end" textLength="25.22" lengthAdjust="spacingAndGlyphs" transform="rotate(0.05 539.10 217.89)">30000</text>
<line x1="540.80" y1="198.80" x2="542.00" y2="198.80" stroke="#000" stroke-width="0.6"/>
<text x="539.10" y="201.69" font-size="7.90" text-anchor="end" textLength="25.22" lengthAdjust="spacingAndGlyphs" transform="rotate(0.05 539.10 201.69)">40000</text>
<line x1="540.80" y1="182.60" x2="542.00" y2="182.60" stroke="#000" stroke-width="0.6"/>
<text x="539.10" y="185.49" font-size="7.90" text-anchor="end" textLength="25.22" lengthAdjust="spacingAndGlyphs" transform="rotate(0.05 539.10 185.49)">50000</text>
<line x1="540.80" y1="166.40" x2="542.00" y2="166.40" stroke="#000" stroke-width="0.6"/>
<text x="539.10" y="169.29" font-size="7.90" text-anchor="end" textLength="25.22" lengthAdjust="spacingAndGlyphs" transform="rotate(0.05 539.10 169.29)">60000</text>
<line x1="546.94" y1="263.60" x2="546.94" y2="264.80" stroke="#000" stroke-width="0.6"/>
<text x="0.00" y="2.00" font-size="7.90" text-anchor="middle" textLength="17.89" lengthAdjust="spacingAndGlyphs" transform="translate(546.94,276.91) rotate(-45)">1.00</text>
<line x1="559.28" y1="263.60" x2="559.28" y2="264.80" stroke="#000" stroke-width="0.6"/>
<text x="0.00" y="2.00" font-size="7.90" text-anchor="middle" textLength="17.89" lengthAdjust="spacingAndGlyphs" transform="translate(559.28,276.91) rotate(-45)">1.25</text>
<line x1="571.62" y1="263.60" x2="571.62" y2="264.80" stroke="#000" stroke-width="0.6"/>
<text x="0.00" y="2.00" font-size="7.90" text-anchor="middle" textLength="17.89" lengthAdjust="spacingAndGlyphs" transform="translate(571.62,276.91) rotate(-45)">1.50</text>
<line x1="583.96" y1="263.60" x2="583.96" y2="264.80" stroke="#000" stroke-width="0.6"/>
<text x="0.00" y="2.00" font-size="7.90" text-anchor="middle" textLength="17.89" lengthAdjust="spacingAndGlyphs" transform="translate(583.96,276.91) rotate(-45)">1.75</text>
<line x1="596.30" y1="263.60" x2="596.30" y2="264.80" stroke="#000" stroke-width="0.6"/>
<text x="0.00" y="2.00" font-size="7.90" text-anchor="middle" textLength="17.89" lengthAdjust="spacingAndGlyphs" transform="translate(596.30,276.91) rotate(-45)">2.00</text>
<line x1="608.64" y1="263.60" x2="608.64" y2="264.80" stroke="#000" stroke-width="0.6"/>
<text x="0.00" y="2.00" font-size="7.90" text-anchor="middle" textLength="17.89" lengthAdjust="spacingAndGlyphs" transform="translate(608.64,276.91) rotate(-45)">2.25</text>
<line x1="620.98" y1="263.60" x2="620.98" y2="264.80" stroke="#000" stroke-width="0.6"/>
<text x="0.00" y="2.00" font-size="7.90" text-anchor="middle" textLength="17.89" lengthAdjust="spacingAndGlyphs" transform="translate(620.98,276.91) rotate(-45)">2.50</text>
<line x1="633.32" y1="263.60" x2="633.32" y2="264.80" stroke="#000" stroke-width="0.6"/>
<text x="0.00" y="2.00" font-size="7.90" text-anchor="middle" textLength="17.89" lengthAdjust="spacingAndGlyphs" transform="translate(633.32,276.91) rotate(-45)">2.75</text>
<line x1="645.66" y1="263.60" x2="645.66" y2="264.80" stroke="#000" stroke-width="0.6"/>
<text x="0.00" y="2.00" font-size="7.90" text-anchor="middle" textLength="17.89" lengthAdjust="spacingAndGlyphs" transform="translate(645.66,276.91) rotate(-45)">3.00</text>
<text x="596.30" y="161.70" font-size="9.76" text-anchor="middle" textLength="89.92" lengthAdjust="spacingAndGlyphs" transform="rotate(0.05 596.30 161.70)">Histogram of gluc</text>
<text x="596.30" y="298.40" font-size="9.92" text-anchor="middle" textLength="21.51" lengthAdjust="spacingAndGlyphs" transform="rotate(0.05 596.30 298.40)">gluc</text>
<text x="0.00" y="0.00" font-size="9.92" text-anchor="middle" textLength="53.84" lengthAdjust="spacingAndGlyphs" transform="translate(505.60,215.45) rotate(-89.95)">Frequency</text>
<rect x="49.23" y="322.90" width="4.17" height="95.40" fill="#800080"/>
<rect x="142.55" y="408.90" width="4.17" height="9.40" fill="#800080"/>
<rect x="43.95" y="318.00" width="108.05" height="100.30" fill="none" stroke="#000" stroke-width="0.95"/>
<line x1="42.75" y1="418.30" x2="43.95" y2="418.30" stroke="#000" stroke-width="0.6"/>
<text x="41.05" y="421.19" font-size="7.90" text-anchor="end" textLength="5.04" lengthAdjust="spacingAndGlyphs" transform="rotate(0.05 41.05 421.19)">0</text>
<line x1="42.75" y1="403.15" x2="43.95" y2="403.15" stroke="#000" stroke-width="0.6"/>
<text x="41.05" y="406.04" font-size="7.90" text-anchor="end" textLength="25.22" lengthAdjust="spacingAndGlyphs" transform="rotate(0.05 41.05 406.04)">10000</text>
<line x1="42.75" y1="388.00" x2="43.95" y2="388.00" stroke="#000" stroke-width="0.6"/>
<text x="41.05" y="390.89" font-size="7.90" text-anchor="end" textLength="25.22" lengthAdjust="spacingAndGlyphs" transform="rotate(0.05 41.05 390.89)">20000</text>
<line x1="42.75" y1="372.85" x2="43.95" y2="372.85" stroke="#000" stroke-width="0.6"/>
<text x="41.05" y="375.74" font-size="7.90" text-anchor="end" textLength="25.22" lengthAdjust="spacingAndGlyphs" transform="rotate(0.05 41.05 375.74)">30000</text>
<line x1="42.75" y1="357.70" x2="43.95" y2="357.70" stroke="#000" stroke-width="0.6"/>
<text x="41.05" y="360.59" font-size="7.90" text-anchor="end" textLength="25.22" lengthAdjust="spacingAndGlyphs" transform="rotate(0.05 41.05 360.59)">40000</text>
<line x1="42.75" y1="342.55" x2="43.95" y2="342.55" stroke="#000" stroke-width="0.6"/>
<text x="41.05" y="345.44" font-size="7.90" text-anchor="end" textLength="25.22" lengthAdjust="spacingAndGlyphs" transform="rotate(0.05 41.05 345.44)">50000</text>
<line x1="42.75" y1="327.40" x2="43.95" y2="327.40" stroke="#000" stroke-width="0.6"/>
<text x="41.05" y="330.29" font-size="7.90" text-anchor="end" textLength="25.22" lengthAdjust="spacingAndGlyphs" transform="rotate(0.05 41.05 330.29)">60000</text>
<line x1="48.86" y1="418.30" x2="48.86" y2="419.50" stroke="#000" stroke-width="0.6"/>
<text x="0.00" y="2.00" font-size="7.90" text-anchor="middle" textLength="12.84" lengthAdjust="spacingAndGlyphs" transform="translate(48.86,429.82) rotate(-45)">0.0</text>
<line x1="68.51" y1="418.30" x2="68.51" y2="419.50" stroke="#000" stroke-width="0.6"/>
<text x="0.00" y="2.00" font-size="7.90" text-anchor="middle" textLength="12.84" lengthAdjust="spacingAndGlyphs" transform="translate(68.51,429.82) rotate(-45)">0.2</text>
<line x1="88.15" y1="418.30" x2="88.15" y2="419.50" stroke="#000" stroke-width="0.6"/>
<text x="0.00" y="2.00" font-size="7.90" text-anchor="middle" textLength="12.84" lengthAdjust="spacingAndGlyphs" transform="translate(88.15,429.82) rotate(-45)">0.4</text>
<line x1="107.80" y1="418.30" x2="107.80" y2="419.50" stroke="#000" stroke-width="0.6"/>
<text x="0.00" y="2.00" font-size="7.90" text-anchor="middle" textLength="12.84" lengthAdjust="spacingAndGlyphs" transform="translate(107.80,429.82) rotate(-45)">0.6</text>
<line x1="127.44" y1="418.30" x2="127.44" y2="419.50" stroke="#000" stroke-width="0.6"/>
<text x="0.00" y="2.00" font-size="7.90" text-anchor="middle" textLength="12.84" lengthAdjust="spacingAndGlyphs" transform="translate(127.44,429.82) rotate(-45)">0.8</text>
<line x1="147.09" y1="418.30" x2="147.09" y2="419.50" stroke="#000" stroke-width="0.6"/>
<text x="0.00" y="2.00" font-size="7.90" text-anchor="middle" textLength="12.84" lengthAdjust="spacingAndGlyphs" transform="translate(147.09,429.82) rotate(-45)">1.0</text>
<text x="97.97" y="316.20" font-size="9.76" text-anchor="middle" textLength="101.60" lengthAdjust="spacingAndGlyphs" transform="rotate(0.05 97.97 316.20)">Histogram of smoke</text>
<text x="97.97" y="448.70" font-size="9.92" text-anchor="middle" textLength="33.37" lengthAdjust="spacingAndGlyphs" transform="rotate(0.05 97.97 448.70)">smoke</text>
<text x="0.00" y="0.00" font-size="9.92" text-anchor="middle" textLength="53.84" lengthAdjust="spacingAndGlyphs" transform="translate(7.55,370.05) rotate(-89.95)">Frequency</text>
<rect x="215.28" y="322.90" width="4.17" height="95.40" fill="#800080"/>
<rect x="308.55" y="413.00" width="4.17" height="5.30" fill="#800080"/>
<rect x="210.00" y="318.00" width="108.00" height="100.30" fill="none" stroke="#000" stroke-width="0.95"/>
<line x1="208.80" y1="418.30" x2="210.00" y2="418.30" stroke="#000" stroke-width="0.6"/>
<text x="207.10" y="421.19" font-size="7.90" text-anchor="end" textLength="5.04" lengthAdjust="spacingAndGlyphs" transform="rotate(0.05 207.10 421.19)">0</text>
<line x1="208.80" y1="403.63" x2="210.00" y2="403.63" stroke="#000" stroke-width="0.6"/>
<text x="207.10" y="406.52" font-size="7.90" text-anchor="end" textLength="25.22" lengthAdjust="spacingAndGlyphs" transform="rotate(0.05 207.10 406.52)">10000</text>
<line x1="208.80" y1="388.96" x2="210.00" y2="388.96" stroke="#000" stroke-width="0.6"/>
<text x="207.10" y="391.85" font-size="7.90" text-anchor="end" textLength="25.22" lengthAdjust="spacingAndGlyphs" transform="rotate(0.05 207.10 391.85)">20000</text>
<line x1="208.80" y1="374.29" x2="210.00" y2="374.29" stroke="#000" stroke-width="0.6"/>
<text x="207.10" y="377.18" font-size="7.90" text-anchor="end" textLength="25.22" lengthAdjust="spacingAndGlyphs" transform="rotate(0.05 207.10 377.18)">30000</text>
<line x1="208.80" y1="359.62" x2="210.00" y2="359.62" stroke="#000" stroke-width="0.6"/>
<text x="207.10" y="362.51" font-size="7.90" text-anchor="end" textLength="25.22" lengthAdjust="spacingAndGlyphs" transform="rotate(0.05 207.10 362.51)">40000</text>
<line x1="208.80" y1="344.95" x2="210.00" y2="344.95" stroke="#000" stroke-width="0.6"/>
<text x="207.10" y="347.84" font-size="7.90" text-anchor="end" textLength="25.22" lengthAdjust="spacingAndGlyphs" transform="rotate(0.05 207.10 347.84)">50000</text>
<line x1="208.80" y1="330.28" x2="210.00" y2="330.28" stroke="#000" stroke-width="0.6"/>
<text x="207.10" y="333.17" font-size="7.90" text-anchor="end" textLength="25.22" lengthAdjust="spacingAndGlyphs" transform="rotate(0.05 207.10 333.17)">60000</text>
<line x1="214.91" y1="418.30" x2="214.91" y2="419.50" stroke="#000" stroke-width="0.6"/>
<text x="0.00" y="2.00" font-size="7.90" text-anchor="middle" textLength="12.84" lengthAdjust="spacingAndGlyphs" transform="translate(214.91,429.82) rotate(-45)">0.0</text>
<line x1="234.55" y1="418.30" x2="234.55" y2="419.50" stroke="#000" stroke-width="0.6"/>
<text x="0.00" y="2.00" font-size="7.90" text-anchor="middle" textLength="12.84" lengthAdjust="spacingAndGlyphs" transform="translate(234.55,429.82) rotate(-45)">0.2</text>
<line x1="254.18" y1="418.30" x2="254.18" y2="419.50" stroke="#000" stroke-width="0.6"/>
<text x="0.00" y="2.00" font-size="7.90" text-anchor="middle" textLength="12.84" lengthAdjust="spacingAndGlyphs" transform="translate(254.18,429.82) rotate(-45)">0.4</text>
<line x1="273.82" y1="418.30" x2="273.82" y2="419.50" stroke="#000" stroke-width="0.6"/>
<text x="0.00" y="2.00" font-size="7.90" text-anchor="middle" textLength="12.84" lengthAdjust="spacingAndGlyphs" transform="translate(273.82,429.82) rotate(-45)">0.6</text>
<line x1="293.45" y1="418.30" x2="293.45" y2="419.50" stroke="#000" stroke-width="0.6"/>
<text x="0.00" y="2.00" font-size="7.90" text-anchor="middle" textLength="12.84" lengthAdjust="spacingAndGlyphs" transform="translate(293.45,429.82) rotate(-45)">0.8</text>
<line x1="313.09" y1="418.30" x2="313.09" y2="419.50" stroke="#000" stroke-width="0.6"/>
<text x="0.00" y="2.00" font-size="7.90" text-anchor="middle" textLength="12.84" lengthAdjust="spacingAndGlyphs" transform="translate(313.09,429.82) rotate(-45)">1.0</text>
<text x="264.00" y="316.20" font-size="9.76" text-anchor="middle" textLength="89.33" lengthAdjust="spacingAndGlyphs" transform="rotate(0.05 264.00 316.20)">Histogram of alco</text>
<text x="264.00" y="448.70" font-size="9.92" text-anchor="middle" textLength="20.91" lengthAdjust="spacingAndGlyphs" transform="rotate(0.05 264.00 448.70)">alco</text>
<text x="0.00" y="0.00" font-size="9.92" text-anchor="middle" textLength="53.84" lengthAdjust="spacingAndGlyphs" transform="translate(173.60,370.05) rotate(-89.95)">Frequency</text>
<rect x="381.39" y="395.10" width="4.18" height="23.20" fill="#800080"/>
<rect x="474.83" y="323.10" width="4.18" height="95.20" fill="#800080"/>
<rect x="376.10" y="318.00" width="108.20" height="100.30" fill="none" stroke="#000" stroke-width="0.95"/>
<line x1="374.90" y1="418.30" x2="376.10" y2="418.30" stroke="#000" stroke-width="0.6"/>
<text x="373.20" y="421.19" font-size="7.90" text-anchor="end" textLength="5.04" lengthAdjust="spacingAndGlyphs" transform="rotate(0.05 373.20 421.19)">0</text>
<line x1="374.90" y1="401.00" x2="376.10" y2="401.00" stroke="#000" stroke-width="0.6"/>
<text x="373.20" y="403.89" font-size="7.90" text-anchor="end" textLength="25.22" lengthAdjust="spacingAndGlyphs" transform="rotate(0.05 373.20 403.89)">10000</text>
<line x1="374.90" y1="383.70" x2="376.10" y2="383.70" stroke="#000" stroke-width="0.6"/>
<text x="373.20" y="386.59" font-size="7.90" text-anchor="end" textLength="25.22" lengthAdjust="spacingAndGlyphs" transform="rotate(0.05 373.20 386.59)">20000</text>
<line x1="374.90" y1="366.40" x2="376.10" y2="366.40" stroke="#000" stroke-width="0.6"/>
<text x="373.20" y="369.29" font-size="7.90" text-anchor="end" textLength="25.22" lengthAdjust="spacingAndGlyphs" transform="rotate(0.05 373.20 369.29)">30000</text>
<line x1="374.90" y1="349.10" x2="376.10" y2="349.10" stroke="#000" stroke-width="0.6"/>
<text x="373.20" y="351.99" font-size="7.90" text-anchor="end" textLength="25.22" lengthAdjust="spacingAndGlyphs" transform="rotate(0.05 373.20 351.99)">40000</text>
<line x1="374.90" y1="331.80" x2="376.10" y2="331.80" stroke="#000" stroke-width="0.6"/>
<text x="373.20" y="334.69" font-size="7.90" text-anchor="end" textLength="25.22" lengthAdjust="spacingAndGlyphs" transform="rotate(0.05 373.20 334.69)">50000</text>
<line x1="381.02" y1="418.30" x2="381.02" y2="419.50" stroke="#000" stroke-width="0.6"/>
<text x="0.00" y="2.00" font-size="7.90" text-anchor="middle" textLength="12.84" lengthAdjust="spacingAndGlyphs" transform="translate(381.02,429.82) rotate(-45)">0.0</text>
<line x1="400.69" y1="418.30" x2="400.69" y2="419.50" stroke="#000" stroke-width="0.6"/>
<text x="0.00" y="2.00" font-size="7.90" text-anchor="middle" textLength="12.84" lengthAdjust="spacingAndGlyphs" transform="translate(400.69,429.82) rotate(-45)">0.2</text>
<line x1="420.36" y1="418.30" x2="420.36" y2="419.50" stroke="#000" stroke-width="0.6"/>
<text x="0.00" y="2.00" font-size="7.90" text-anchor="middle" textLength="12.84" lengthAdjust="spacingAndGlyphs" transform="translate(420.36,429.82) rotate(-45)">0.4</text>
<line x1="440.04" y1="418.30" x2="440.04" y2="419.50" stroke="#000" stroke-width="0.6"/>
<text x="0.00" y="2.00" font-size="7.90" text-anchor="middle" textLength="12.84" lengthAdjust="spacingAndGlyphs" transform="translate(440.04,429.82) rotate(-45)">0.6</text>
<line x1="459.71" y1="418.30" x2="459.71" y2="419.50" stroke="#000" stroke-width="0.6"/>
<text x="0.00" y="2.00" font-size="7.90" text-anchor="middle" textLength="12.84" lengthAdjust="spacingAndGlyphs" transform="translate(459.71,429.82) rotate(-45)">0.8</text>
<line x1="479.38" y1="418.30" x2="479.38" y2="419.50" stroke="#000" stroke-width="0.6"/>
<text x="0.00" y="2.00" font-size="7.90" text-anchor="middle" textLength="12.84" lengthAdjust="spacingAndGlyphs" transform="translate(479.38,429.82) rotate(-45)">1.0</text>
<text x="430.20" y="316.20" font-size="9.76" text-anchor="middle" textLength="99.37" lengthAdjust="spacingAndGlyphs" transform="rotate(0.05 430.20 316.20)">Histogram of active</text>
<text x="430.20" y="448.70" font-size="9.92" text-anchor="middle" textLength="31.11" lengthAdjust="spacingAndGlyphs" transform="rotate(0.05 430.20 448.70)">active</text>
<text x="0.00" y="0.00" font-size="9.92" text-anchor="middle" textLength="53.84" lengthAdjust="spacingAndGlyphs" transform="translate(339.70,370.05) rotate(-89.95)">Frequency</text>
<rect x="547.31" y="323.10" width="4.20" height="95.20" fill="#800080"/>
<rect x="641.10" y="325.60" width="4.20" height="92.70" fill="#800080"/>
<rect x="542.00" y="318.00" width="108.60" height="100.30" fill="none" stroke="#000" stroke-width="0.95"/>
<line x1="540.80" y1="418.30" x2="542.00" y2="418.30" stroke="#000" stroke-width="0.6"/>
<text x="539.10" y="421.19" font-size="7.90" text-anchor="end" textLength="5.04" lengthAdjust="spacingAndGlyphs" transform="rotate(0.05 539.10 421.19)">0</text>
<line x1="540.80" y1="404.59" x2="542.00" y2="404.59" stroke="#000" stroke-width="0.6"/>
<text x="539.10" y="407.48" font-size="7.90" text-anchor="end" textLength="20.18" lengthAdjust="spacingAndGlyphs" transform="rotate(0.05 539.10 407.48)">5000</text>
<line x1="540.80" y1="390.88" x2="542.00" y2="390.88" stroke="#000" stroke-width="0.6"/>
<text x="539.10" y="393.77" font-size="7.90" text-anchor="end" textLength="25.22" lengthAdjust="spacingAndGlyphs" transform="rotate(0.05 539.10 393.77)">10000</text>
<line x1="540.80" y1="377.17" x2="542.00" y2="377.17" stroke="#000" stroke-width="0.6"/>
<text x="539.10" y="380.06" font-size="7.90" text-anchor="end" textLength="25.22" lengthAdjust="spacingAndGlyphs" transform="rotate(0.05 539.10 380.06)">15000</text>
<line x1="540.80" y1="363.46" x2="542.00" y2="363.46" stroke="#000" stroke-width="0.6"/>
<text x="539.10" y="366.35" font-size="7.90" text-anchor="end" textLength="25.22" lengthAdjust="spacingAndGlyphs" transform="rotate(0.05 539.10 366.35)">20000</text>
<line x1="540.80" y1="349.75" x2="542.00" y2="349.75" stroke="#000" stroke-width="0.6"/>
<text x="539.10" y="352.64" font-size="7.90" text-anchor="end" textLength="25.22" lengthAdjust="spacingAndGlyphs" transform="rotate(0.05 539.10 352.64)">25000</text>
<line x1="540.80" y1="336.04" x2="542.00" y2="336.04" stroke="#000" stroke-width="0.6"/>
<text x="539.10" y="338.93" font-size="7.90" text-anchor="end" textLength="25.22" lengthAdjust="spacingAndGlyphs" transform="rotate(0.05 539.10 338.93)">30000</text>
<line x1="540.80" y1="322.33" x2="542.00" y2="322.33" stroke="#000" stroke-width="0.6"/>
<text x="539.10" y="325.22" font-size="7.90" text-anchor="end" textLength="25.22" lengthAdjust="spacingAndGlyphs" transform="rotate(0.05 539.10 325.22)">35000</text>
<line x1="546.94" y1="418.30" x2="546.94" y2="419.50" stroke="#000" stroke-width="0.6"/>
<text x="0.00" y="2.00" font-size="7.90" text-anchor="middle" textLength="12.84" lengthAdjust="spacingAndGlyphs" transform="translate(546.94,429.82) rotate(-45)">0.0</text>
<line x1="566.68" y1="418.30" x2="566.68" y2="419.50" stroke="#000" stroke-width="0.6"/>
<text x="0.00" y="2.00" font-size="7.90" text-anchor="middle" textLength="12.84" lengthAdjust="spacingAndGlyphs" transform="translate(566.68,429.82) rotate(-45)">0.2</text>
<line x1="586.43" y1="418.30" x2="586.43" y2="419.50" stroke="#000" stroke-width="0.6"/>
<text x="0.00" y="2.00" font-size="7.90" text-anchor="middle" textLength="12.84" lengthAdjust="spacingAndGlyphs" transform="translate(586.43,429.82) rotate(-45)">0.4</text>
<line x1="606.17" y1="418.30" x2="606.17" y2="419.50" stroke="#000" stroke-width="0.6"/>
<text x="0.00" y="2.00" font-size="7.90" text-anchor="middle" textLength="12.84" lengthAdjust="spacingAndGlyphs" transform="translate(606.17,429.82) rotate(-45)">0.6</text>
<line x1="625.92" y1="418.30" x2="625.92" y2="419.50" stroke="#000" stroke-width="0.6"/>
<text x="0.00" y="2.00" font-size="7.90" text-anchor="middle" textLength="12.84" lengthAdjust="spacingAndGlyphs" transform="translate(625.92,429.82) rotate(-45)">0.8</text>
<line x1="645.66" y1="418.30" x2="645.66" y2="419.50" stroke="#000" stroke-width="0.6"/>
<text x="0.00" y="2.00" font-size="7.90" text-anchor="middle" textLength="12.84" lengthAdjust="spacingAndGlyphs" transform="translate(645.66,429.82) rotate(-45)">1.0</text>
<text x="596.30" y="316.20" font-size="9.76" text-anchor="middle" textLength="100.15" lengthAdjust="spacingAndGlyphs" transform="rotate(0.05 596.30 316.20)">Histogram of cardio</text>
<text x="596.30" y="448.70" font-size="9.92" text-anchor="middle" textLength="31.91" lengthAdjust="spacingAndGlyphs" transform="rotate(0.05 596.30 448.70)">cardio</text>
<text x="0.00" y="0.00" font-size="9.92" text-anchor="middle" textLength="53.84" lengthAdjust="spacingAndGlyphs" transform="translate(505.60,370.05) rotate(-89.95)">Frequency</text>
<rect x="73.79" y="550.60" width="4.17" height="21.60" fill="#800080"/>
<rect x="78.70" y="528.30" width="4.17" height="43.90" fill="#800080"/>
<rect x="83.61" y="555.20" width="4.17" height="17.00" fill="#800080"/>
<rect x="88.52" y="528.00" width="4.17" height="44.20" fill="#800080"/>
<rect x="93.43" y="525.80" width="4.17" height="46.40" fill="#800080"/>
<rect x="98.34" y="522.00" width="4.17" height="50.20" fill="#800080"/>
<rect x="103.25" y="529.70" width="4.17" height="42.50" fill="#800080"/>
<rect x="108.17" y="489.70" width="4.17" height="82.50" fill="#800080"/>
<rect x="113.08" y="483.20" width="4.17" height="89.00" fill="#800080"/>
<rect x="117.99" y="477.40" width="4.17" height="94.80" fill="#800080"/>
<rect x="122.90" y="527.80" width="4.17" height="44.40" fill="#800080"/>
<rect x="127.81" y="483.90" width="4.17" height="88.30" fill="#800080"/>
<rect x="132.72" y="487.10" width="4.17" height="85.10" fill="#800080"/>
<rect x="137.63" y="510.80" width="4.17" height="61.40" fill="#800080"/>
<rect x="142.55" y="510.80" width="4.17" height="61.40" fill="#800080"/>
<rect x="43.95" y="472.50" width="108.05" height="99.70" fill="none" stroke="#000" stroke-width="0.95"/>
<line x1="42.75" y1="572.20" x2="43.95" y2="572.20" stroke="#000" stroke-width="0.6"/>
<text x="41.05" y="575.09" font-size="7.90" text-anchor="end" textLength="5.04" lengthAdjust="spacingAndGlyphs" transform="rotate(0.05 41.05 575.09)">0</text>
<line x1="42.75" y1="559.31" x2="43.95" y2="559.31" stroke="#000" stroke-width="0.6"/>
<text x="41.05" y="562.20" font-size="7.90" text-anchor="end" textLength="20.18" lengthAdjust="spacingAndGlyphs" transform="rotate(0.05 41.05 562.20)">1000</text>
<line x1="42.75" y1="546.42" x2="43.95" y2="546.42" stroke="#000" stroke-width="0.6"/>
<text x="41.05" y="549.31" font-size="7.90" text-anchor="end" textLength="20.18" lengthAdjust="spacingAndGlyphs" transform="rotate(0.05 41.05 549.31)">2000</text>
<line x1="42.75" y1="533.53" x2="43.95" y2="533.53" stroke="#000" stroke-width="0.6"/>
<text x="41.05" y="536.42" font-size="7.90" text-anchor="end" textLength="20.18" lengthAdjust="spacingAndGlyphs" transform="rotate(0.05 41.05 536.42)">3000</text>
<line x1="42.75" y1="520.64" x2="43.95" y2="520.64" stroke="#000" stroke-width="0.6"/>
<text x="41.05" y="523.53" font-size="7.90" text-anchor="end" textLength="20.18" lengthAdjust="spacingAndGlyphs" transform="rotate(0.05 41.05 523.53)">4000</text>
<line x1="42.75" y1="507.75" x2="43.95" y2="507.75" stroke="#000" stroke-width="0.6"/>
<text x="41.05" y="510.64" font-size="7.90" text-anchor="end" textLength="20.18" lengthAdjust="spacingAndGlyphs" transform="rotate(0.05 41.05 510.64)">5000</text>
<line x1="42.75" y1="494.86" x2="43.95" y2="494.86" stroke="#000" stroke-width="0.6"/>
<text x="41.05" y="497.75" font-size="7.90" text-anchor="end" textLength="20.18" lengthAdjust="spacingAndGlyphs" transform="rotate(0.05 41.05 497.75)">6000</text>
<line x1="42.75" y1="481.97" x2="43.95" y2="481.97" stroke="#000" stroke-width="0.6"/>
<text x="41.05" y="484.86" font-size="7.90" text-anchor="end" textLength="20.18" lengthAdjust="spacingAndGlyphs" transform="rotate(0.05 41.05 484.86)">7000</text>
<line x1="51.67" y1="572.20" x2="51.67" y2="573.40" stroke="#000" stroke-width="0.6"/>
<text x="0.00" y="2.00" font-size="7.90" text-anchor="middle" textLength="10.09" lengthAdjust="spacingAndGlyphs" transform="translate(51.67,582.75) rotate(-45)">30</text>
<line x1="65.70" y1="572.20" x2="65.70" y2="573.40" stroke="#000" stroke-width="0.6"/>
<text x="0.00" y="2.00" font-size="7.90" text-anchor="middle" textLength="10.09" lengthAdjust="spacingAndGlyphs" transform="translate(65.70,582.75) rotate(-45)">35</text>
<line x1="79.73" y1="572.20" x2="79.73" y2="573.40" stroke="#000" stroke-width="0.6"/>
<text x="0.00" y="2.00" font-size="7.90" text-anchor="middle" textLength="10.09" lengthAdjust="spacingAndGlyphs" transform="translate(79.73,582.75) rotate(-45)">40</text>
<line x1="93.77" y1="572.20" x2="93.77" y2="573.40" stroke="#000" stroke-width="0.6"/>
<text x="0.00" y="2.00" font-size="7.90" text-anchor="middle" textLength="10.09" lengthAdjust="spacingAndGlyphs" transform="translate(93.77,582.75) rotate(-45)">45</text>
<line x1="107.80" y1="572.20" x2="107.80" y2="573.40" stroke="#000" stroke-width="0.6"/>
<text x="0.00" y="2.00" font-size="7.90" text-anchor="middle" textLength="10.09" lengthAdjust="spacingAndGlyphs" transform="translate(107.80,582.75) rotate(-45)">50</text>
<line x1="121.83" y1="572.20" x2="121.83" y2="573.40" stroke="#000" stroke-width="0.6"/>
<text x="0.00" y="2.00" font-size="7.90" text-anchor="middle" textLength="10.09" lengthAdjust="spacingAndGlyphs" transform="translate(121.83,582.75) rotate(-45)">55</text>
<line x1="135.86" y1="572.20" x2="135.86" y2="573.40" stroke="#000" stroke-width="0.6"/>
<text x="0.00" y="2.00" font-size="7.90" text-anchor="middle" textLength="10.09" lengthAdjust="spacingAndGlyphs" transform="translate(135.86,582.75) rotate(-45)">60</text>
<line x1="149.90" y1="572.20" x2="149.90" y2="573.40" stroke="#000" stroke-width="0.6"/>
<text x="0.00" y="2.00" font-size="7.90" text-anchor="middle" textLength="10.09" lengthAdjust="spacingAndGlyphs" transform="translate(149.90,582.75) rotate(-45)">65</text>
<text x="97.97" y="470.70" font-size="9.76" text-anchor="middle" textLength="119.45" lengthAdjust="spacingAndGlyphs" transform="rotate(0.05 97.97 470.70)">Histogram of age<tspan dy="1.25" class="u">_</tspan><tspan dy="-1.25">years</tspan></text>
<text x="97.97" y="600.60" font-size="9.92" text-anchor="middle" textLength="51.53" lengthAdjust="spacingAndGlyphs" transform="rotate(0.05 97.97 600.60)">age<tspan dy="1.27" class="u">_</tspan><tspan dy="-1.27">years</tspan></text>
<text x="0.00" y="0.00" font-size="9.92" text-anchor="middle" textLength="53.84" lengthAdjust="spacingAndGlyphs" transform="translate(12.55,524.25) rotate(-89.95)">Frequency</text>
<rect x="220.19" y="477.40" width="4.17" height="94.80" fill="#800080"/>
<rect x="225.10" y="557.80" width="4.17" height="14.40" fill="#800080"/>
<rect x="210.00" y="472.50" width="108.00" height="99.70" fill="none" stroke="#000" stroke-width="0.95"/>
<line x1="208.80" y1="572.20" x2="210.00" y2="572.20" stroke="#000" stroke-width="0.6"/>
<text x="207.10" y="575.09" font-size="7.90" text-anchor="end" textLength="5.04" lengthAdjust="spacingAndGlyphs" transform="rotate(0.05 207.10 575.09)">0</text>
<line x1="208.80" y1="555.97" x2="210.00" y2="555.97" stroke="#000" stroke-width="0.6"/>
<text x="207.10" y="558.86" font-size="7.90" text-anchor="end" textLength="25.22" lengthAdjust="spacingAndGlyphs" transform="rotate(0.05 207.10 558.86)">10000</text>
<line x1="208.80" y1="539.74" x2="210.00" y2="539.74" stroke="#000" stroke-width="0.6"/>
<text x="207.10" y="542.63" font-size="7.90" text-anchor="end" textLength="25.22" lengthAdjust="spacingAndGlyphs" transform="rotate(0.05 207.10 542.63)">20000</text>
<line x1="208.80" y1="523.51" x2="210.00" y2="523.51" stroke="#000" stroke-width="0.6"/>
<text x="207.10" y="526.40" font-size="7.90" text-anchor="end" textLength="25.22" lengthAdjust="spacingAndGlyphs" transform="rotate(0.05 207.10 526.40)">30000</text>
<line x1="208.80" y1="507.28" x2="210.00" y2="507.28" stroke="#000" stroke-width="0.6"/>
<text x="207.10" y="510.17" font-size="7.90" text-anchor="end" textLength="25.22" lengthAdjust="spacingAndGlyphs" transform="rotate(0.05 207.10 510.17)">40000</text>
<line x1="208.80" y1="491.05" x2="210.00" y2="491.05" stroke="#000" stroke-width="0.6"/>
<text x="207.10" y="493.94" font-size="7.90" text-anchor="end" textLength="25.22" lengthAdjust="spacingAndGlyphs" transform="rotate(0.05 207.10 493.94)">50000</text>
<line x1="208.80" y1="474.82" x2="210.00" y2="474.82" stroke="#000" stroke-width="0.6"/>
<text x="207.10" y="477.71" font-size="7.90" text-anchor="end" textLength="25.22" lengthAdjust="spacingAndGlyphs" transform="rotate(0.05 207.10 477.71)">60000</text>
<line x1="213.75" y1="572.20" x2="213.75" y2="573.40" stroke="#000" stroke-width="0.6"/>
<text x="0.00" y="2.00" font-size="7.90" text-anchor="middle" textLength="5.04" lengthAdjust="spacingAndGlyphs" transform="translate(213.75,580.96) rotate(-45)">0</text>
<line x1="230.38" y1="572.20" x2="230.38" y2="573.40" stroke="#000" stroke-width="0.6"/>
<text x="0.00" y="2.00" font-size="7.90" text-anchor="middle" textLength="10.09" lengthAdjust="spacingAndGlyphs" transform="translate(230.38,582.75) rotate(-45)">50</text>
<line x1="247.01" y1="572.20" x2="247.01" y2="573.40" stroke="#000" stroke-width="0.6"/>
<text x="0.00" y="2.00" font-size="7.90" text-anchor="middle" textLength="15.13" lengthAdjust="spacingAndGlyphs" transform="translate(247.01,584.53) rotate(-45)">100</text>
<line x1="263.64" y1="572.20" x2="263.64" y2="573.40" stroke="#000" stroke-width="0.6"/>
<text x="0.00" y="2.00" font-size="7.90" text-anchor="middle" textLength="15.13" lengthAdjust="spacingAndGlyphs" transform="translate(263.64,584.53) rotate(-45)">150</text>
<line x1="280.27" y1="572.20" x2="280.27" y2="573.40" stroke="#000" stroke-width="0.6"/>
<text x="0.00" y="2.00" font-size="7.90" text-anchor="middle" textLength="15.13" lengthAdjust="spacingAndGlyphs" transform="translate(280.27,584.53) rotate(-45)">200</text>
<line x1="296.90" y1="572.20" x2="296.90" y2="573.40" stroke="#000" stroke-width="0.6"/>
<text x="0.00" y="2.00" font-size="7.90" text-anchor="middle" textLength="15.13" lengthAdjust="spacingAndGlyphs" transform="translate(296.90,584.53) rotate(-45)">250</text>
<line x1="313.53" y1="572.20" x2="313.53" y2="573.40" stroke="#000" stroke-width="0.6"/>
<text x="0.00" y="2.00" font-size="7.90" text-anchor="middle" textLength="15.13" lengthAdjust="spacingAndGlyphs" transform="translate(313.53,584.53) rotate(-45)">300</text>
<text x="264.00" y="470.70" font-size="9.76" text-anchor="middle" textLength="87.57" lengthAdjust="spacingAndGlyphs" transform="rotate(0.05 264.00 470.70)">Histogram of bmi</text>
<text x="264.00" y="604.30" font-size="9.92" text-anchor="middle" textLength="19.12" lengthAdjust="spacingAndGlyphs" transform="rotate(0.05 264.00 604.30)">bmi</text>
<text x="0.00" y="0.00" font-size="9.92" text-anchor="middle" textLength="53.84" lengthAdjust="spacingAndGlyphs" transform="translate(173.60,524.25) rotate(-89.95)">Frequency</text>
<rect x="381.39" y="477.60" width="4.18" height="94.60" fill="#800080"/>
<rect x="410.90" y="534.40" width="4.18" height="37.80" fill="#800080"/>
<rect x="445.32" y="550.40" width="4.18" height="21.80" fill="#800080"/>
<rect x="474.83" y="565.50" width="4.18" height="6.70" fill="#800080"/>
<rect x="376.10" y="472.50" width="108.20" height="99.70" fill="none" stroke="#000" stroke-width="0.95"/>
<line x1="374.90" y1="572.20" x2="376.10" y2="572.20" stroke="#000" stroke-width="0.6"/>
<text x="373.20" y="575.09" font-size="7.90" text-anchor="end" textLength="5.04" lengthAdjust="spacingAndGlyphs" transform="rotate(0.05 373.20 575.09)">0</text>
<line x1="374.90" y1="560.28" x2="376.10" y2="560.28" stroke="#000" stroke-width="0.6"/>
<text x="373.20" y="563.17" font-size="7.90" text-anchor="end" textLength="20.18" lengthAdjust="spacingAndGlyphs" transform="rotate(0.05 373.20 563.17)">5000</text>
<line x1="374.90" y1="548.36" x2="376.10" y2="548.36" stroke="#000" stroke-width="0.6"/>
<text x="373.20" y="551.25" font-size="7.90" text-anchor="end" textLength="25.22" lengthAdjust="spacingAndGlyphs" transform="rotate(0.05 373.20 551.25)">10000</text>
<line x1="374.90" y1="536.44" x2="376.10" y2="536.44" stroke="#000" stroke-width="0.6"/>
<text x="373.20" y="539.33" font-size="7.90" text-anchor="end" textLength="25.22" lengthAdjust="spacingAndGlyphs" transform="rotate(0.05 373.20 539.33)">15000</text>
<line x1="374.90" y1="524.52" x2="376.10" y2="524.52" stroke="#000" stroke-width="0.6"/>
<text x="373.20" y="527.41" font-size="7.90" text-anchor="end" textLength="25.22" lengthAdjust="spacingAndGlyphs" transform="rotate(0.05 373.20 527.41)">20000</text>
<line x1="374.90" y1="512.60" x2="376.10" y2="512.60" stroke="#000" stroke-width="0.6"/>
<text x="373.20" y="515.49" font-size="7.90" text-anchor="end" textLength="25.22" lengthAdjust="spacingAndGlyphs" transform="rotate(0.05 373.20 515.49)">25000</text>
<line x1="374.90" y1="500.68" x2="376.10" y2="500.68" stroke="#000" stroke-width="0.6"/>
<text x="373.20" y="503.57" font-size="7.90" text-anchor="end" textLength="25.22" lengthAdjust="spacingAndGlyphs" transform="rotate(0.05 373.20 503.57)">30000</text>
<line x1="374.90" y1="488.76" x2="376.10" y2="488.76" stroke="#000" stroke-width="0.6"/>
<text x="373.20" y="491.65" font-size="7.90" text-anchor="end" textLength="25.22" lengthAdjust="spacingAndGlyphs" transform="rotate(0.05 373.20 491.65)">35000</text>
<line x1="374.90" y1="476.84" x2="376.10" y2="476.84" stroke="#000" stroke-width="0.6"/>
<text x="373.20" y="479.73" font-size="7.90" text-anchor="end" textLength="25.22" lengthAdjust="spacingAndGlyphs" transform="rotate(0.05 373.20 479.73)">40000</text>
<line x1="381.02" y1="572.20" x2="381.02" y2="573.40" stroke="#000" stroke-width="0.6"/>
<text x="0.00" y="2.00" font-size="7.90" text-anchor="middle" textLength="88.74" lengthAdjust="spacingAndGlyphs" transform="translate(381.02,610.56) rotate(-45)">Hypertension Stage 1</text>
<line x1="413.81" y1="572.20" x2="413.81" y2="573.40" stroke="#000" stroke-width="0.6"/>
<text x="0.00" y="2.00" font-size="7.90" text-anchor="middle" textLength="88.74" lengthAdjust="spacingAndGlyphs" transform="translate(413.81,610.56) rotate(-45)">Hypertension Stage 2</text>
<line x1="446.59" y1="572.20" x2="446.59" y2="573.40" stroke="#000" stroke-width="0.6"/>
<text x="0.00" y="2.00" font-size="7.90" text-anchor="middle" textLength="29.56" lengthAdjust="spacingAndGlyphs" transform="translate(446.59,589.63) rotate(-45)">Normal</text>
<line x1="479.38" y1="572.20" x2="479.38" y2="573.40" stroke="#000" stroke-width="0.6"/>
<text x="0.00" y="2.00" font-size="7.90" text-anchor="middle" textLength="35.55" lengthAdjust="spacingAndGlyphs" transform="translate(479.38,591.75) rotate(-45)">Elevated</text>
<text x="430.20" y="470.70" font-size="9.76" text-anchor="middle" textLength="130.56" lengthAdjust="spacingAndGlyphs" transform="rotate(0.05 430.20 470.70)">Histogram of bp<tspan dy="1.25" class="u">_</tspan><tspan dy="-1.25">category</tspan></text>
<text x="430.20" y="658.20" font-size="9.92" text-anchor="middle" textLength="62.82" lengthAdjust="spacingAndGlyphs" transform="rotate(0.05 430.20 658.20)">bp<tspan dy="1.27" class="u">_</tspan><tspan dy="-1.27">category</tspan></text>
<text x="0.00" y="0.00" font-size="9.92" text-anchor="middle" textLength="53.84" lengthAdjust="spacingAndGlyphs" transform="translate(339.70,524.25) rotate(-89.95)">Frequency</text>
<rect x="547.31" y="477.60" width="4.20" height="94.60" fill="#800080"/>
<rect x="576.92" y="534.40" width="4.20" height="37.80" fill="#800080"/>
<rect x="611.48" y="550.40" width="4.20" height="21.80" fill="#800080"/>
<rect x="641.10" y="565.50" width="4.20" height="6.70" fill="#800080"/>
<rect x="542.00" y="472.50" width="108.60" height="99.70" fill="none" stroke="#000" stroke-width="0.95"/>
<line x1="540.80" y1="572.20" x2="542.00" y2="572.20" stroke="#000" stroke-width="0.6"/>
<text x="539.10" y="575.09" font-size="7.90" text-anchor="end" textLength="5.04" lengthAdjust="spacingAndGlyphs" transform="rotate(0.05 539.10 575.09)">0</text>
<line x1="540.80" y1="560.28" x2="542.00" y2="560.28" stroke="#000" stroke-width="0.6"/>
<text x="539.10" y="563.17" font-size="7.90" text-anchor="end" textLength="20.18" lengthAdjust="spacingAndGlyphs" transform="rotate(0.05 539.10 563.17)">5000</text>
<line x1="540.80" y1="548.36" x2="542.00" y2="548.36" stroke="#000" stroke-width="0.6"/>
<text x="539.10" y="551.25" font-size="7.90" text-anchor="end" textLength="25.22" lengthAdjust="spacingAndGlyphs" transform="rotate(0.05 539.10 551.25)">10000</text>
<line x1="540.80" y1="536.44" x2="542.00" y2="536.44" stroke="#000" stroke-width="0.6"/>
<text x="539.10" y="539.33" font-size="7.90" text-anchor="end" textLength="25.22" lengthAdjust="spacingAndGlyphs" transform="rotate(0.05 539.10 539.33)">15000</text>
<line x1="540.80" y1="524.52" x2="542.00" y2="524.52" stroke="#000" stroke-width="0.6"/>
<text x="539.10" y="527.41" font-size="7.90" text-anchor="end" textLength="25.22" lengthAdjust="spacingAndGlyphs" transform="rotate(0.05 539.10 527.41)">20000</text>
<line x1="540.80" y1="512.60" x2="542.00" y2="512.60" stroke="#000" stroke-width="0.6"/>
<text x="539.10" y="515.49" font-size="7.90" text-anchor="end" textLength="25.22" lengthAdjust="spacingAndGlyphs" transform="rotate(0.05 539.10 515.49)">25000</text>
<line x1="540.80" y1="500.68" x2="542.00" y2="500.68" stroke="#000" stroke-width="0.6"/>
<text x="539.10" y="503.57" font-size="7.90" text-anchor="end" textLength="25.22" lengthAdjust="spacingAndGlyphs" transform="rotate(0.05 539.10 503.57)">30000</text>
<line x1="540.80" y1="488.76" x2="542.00" y2="488.76" stroke="#000" stroke-width="0.6"/>
<text x="539.10" y="491.65" font-size="7.90" text-anchor="end" textLength="25.22" lengthAdjust="spacingAndGlyphs" transform="rotate(0.05 539.10 491.65)">35000</text>
<line x1="540.80" y1="476.84" x2="542.00" y2="476.84" stroke="#000" stroke-width="0.6"/>
<text x="539.10" y="479.73" font-size="7.90" text-anchor="end" textLength="25.22" lengthAdjust="spacingAndGlyphs" transform="rotate(0.05 539.10 479.73)">40000</text>
<line x1="546.94" y1="572.20" x2="546.94" y2="573.40" stroke="#000" stroke-width="0.6"/>
<text x="0.00" y="2.00" font-size="7.90" text-anchor="middle" textLength="88.74" lengthAdjust="spacingAndGlyphs" transform="translate(546.94,610.56) rotate(-45)">Hypertension Stage 1</text>
<line x1="579.85" y1="572.20" x2="579.85" y2="573.40" stroke="#000" stroke-width="0.6"/>
<text x="0.00" y="2.00" font-size="7.90" text-anchor="middle" textLength="88.74" lengthAdjust="spacingAndGlyphs" transform="translate(579.85,610.56) rotate(-45)">Hypertension Stage 2</text>
<line x1="612.75" y1="572.20" x2="612.75" y2="573.40" stroke="#000" stroke-width="0.6"/>
<text x="0.00" y="2.00" font-size="7.90" text-anchor="middle" textLength="29.56" lengthAdjust="spacingAndGlyphs" transform="translate(612.75,589.63) rotate(-45)">Normal</text>
<line x1="645.66" y1="572.20" x2="645.66" y2="573.40" stroke="#000" stroke-width="0.6"/>
<text x="0.00" y="2.00" font-size="7.90" text-anchor="middle" textLength="35.55" lengthAdjust="spacingAndGlyphs" transform="translate(645.66,591.75) rotate(-45)">Elevated</text>
<text x="596.30" y="470.70" font-size="9.76" text-anchor="middle" textLength="177.81" lengthAdjust="spacingAndGlyphs" transform="rotate(0.05 596.30 470.70)">Histogram of bp<tspan dy="1.25" class="u">_</tspan><tspan dy="-1.25">category</tspan><tspan dy="1.25" class="u">_</tspan><tspan dy="-1.25">encoded</tspan></text>
<text x="596.30" y="658.20" font-size="9.92" text-anchor="middle" textLength="110.87" lengthAdjust="spacingAndGlyphs" transform="rotate(0.05 596.30 658.20)">bp<tspan dy="1.27" class="u">_</tspan><tspan dy="-1.27">category</tspan><tspan dy="1.27" class="u">_</tspan><tspan dy="-1.27">encoded</tspan></text>
<text x="0.00" y="0.00" font-size="9.92" text-anchor="middle" textLength="53.84" lengthAdjust="spacingAndGlyphs" transform="translate(505.60,524.25) rotate(-89.95)">Frequency</text>
</g>
</svg></div>
</body></html>
